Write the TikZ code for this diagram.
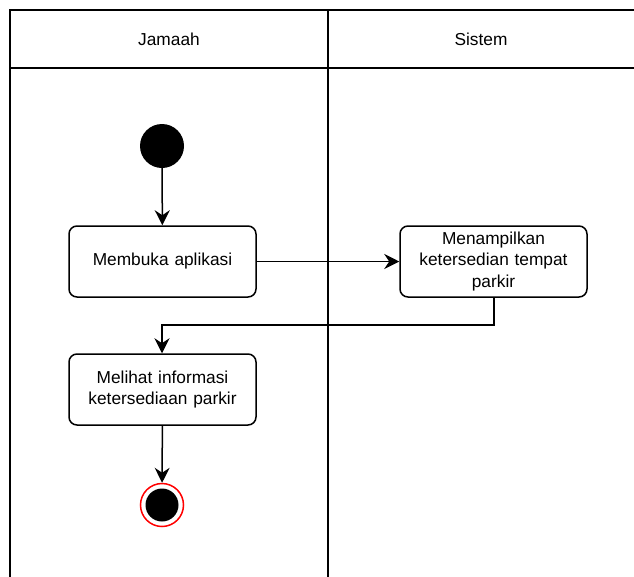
\documentclass[tikz,border=0pt]{standalone}
\usepackage{fontspec}
\setmainfont{Liberation Sans}
\usetikzlibrary{arrows.meta}
\begin{document}
\begin{tikzpicture}[x=1pt,y=-1pt,
  lane/.style={draw=black,line width=1.5pt},
  act/.style={draw=black,line width=1.5pt,rounded corners=8pt,minimum width=187pt,minimum height=71pt,align=center,inner sep=2pt,font=\fontsize{17.3}{21.5}\selectfont,text width=180pt},
  flow/.style={draw=black,line width=1.5pt,-{Stealth[length=15pt,width=15pt,inset=5pt]}},
  lbl/.style={font=\fontsize{17.3}{21.5}\selectfont}]
\useasboundingbox (0,0) rectangle (634,576);
\clip (0,0) rectangle (634,576);
\fill[white] (0,0) rectangle (634,576);
% swimlanes
\draw[lane] (10,590) -- (10,10) -- (650,10);
\draw[lane] (10,68) -- (650,68);
\draw[lane] (328,10) -- (328,590);
\node[lbl] (lane1) at (169,39) {Jamaah};
\node[lbl] (lane2) at (481,39) {Sistem};
% nodes
\node[circle,fill=black,minimum size=44pt,inner sep=0pt] (start) at (162,146) {};
\node[act] (a1) at (162.5,261.5) {Membuka aplikasi};
\node[act] (a2) at (493.5,261.5) {Menampilkan\\ketersedian tempat\\parkir};
\node[act] (a3) at (162.5,389.5) {Melihat informasi\\ketersediaan parkir};
\node[circle,draw=red,line width=1.5pt,fill=white,minimum size=43pt,inner sep=0pt] (end) at (162,505) {};
\node[circle,fill=black,minimum size=33pt,inner sep=0pt] (endin) at (end.center) {};
\coordinate (b1) at (494,325);
\coordinate (b2) at (162,325);
% connectors
\draw[flow] (start) -- (a1);
\draw[flow] (a1) -- (a2);
\draw[flow] (a2.south -| b1) -- (b1) -- (b2) -- (a3.north -| b2);
\draw[flow] (a3) -- (end);
\end{tikzpicture}
\end{document}
